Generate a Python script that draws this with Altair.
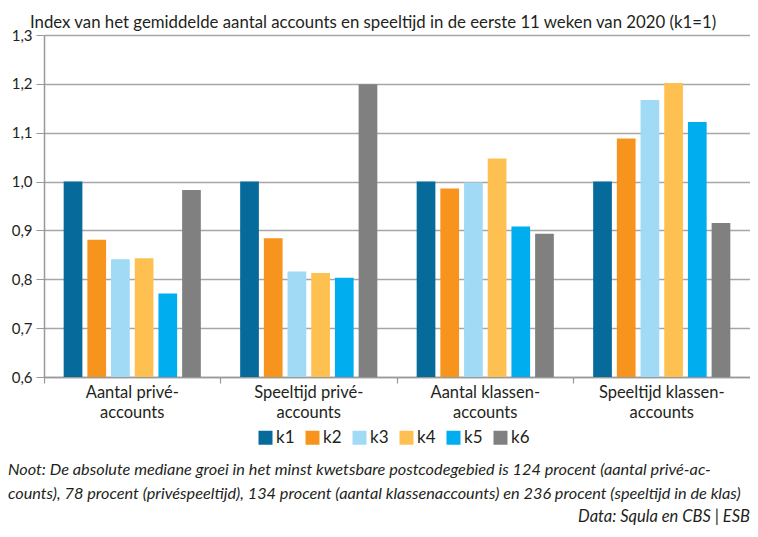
import altair as alt
import pandas as pd

groups = ["Aantal privé-accounts", "Speeltijd privé-accounts",
          "Aantal klassen-accounts", "Speeltijd klassen-accounts"]
series = ["k1", "k2", "k3", "k4", "k5", "k6"]
colors = ["#066a9a", "#f7941d", "#a0daf5", "#ffc052", "#00aeef", "#808080"]

vals_aantal_prive = [1.0, 0.881, 0.841, 0.843, 0.771, 0.983]
vals_speeltijd_prive = [1.0, 0.884, 0.816, 0.813, 0.803, 1.199]
vals_aantal_klassen = [1.0, 0.986, 0.998, 1.047, 0.908, 0.893]
vals_speeltijd_klassen = [1.0, 1.088, 1.167, 1.202, 1.122, 0.915]

title_text = "Index van het gemiddelde aantal accounts en speeltijd in de eerste 11 weken van 2020 (k1=1)"
note1 = "Noot: De absolute mediane groei in het minst kwetsbare postcodegebied is 124 procent (aantal privé-ac-"
note2 = "counts), 78 procent (privéspeeltijd), 134 procent (aantal klassenaccounts) en 236 procent (speeltijd in de klas)"
source = "Data: Squla en CBS | ESB"

rows = []
for g, vals in zip(groups, [vals_aantal_prive, vals_speeltijd_prive,
                            vals_aantal_klassen, vals_speeltijd_klassen]):
    for s, v in zip(series, vals):
        rows.append({"group": g, "series": s, "value": v})
df = pd.DataFrame(rows)

W, H = 706, 342
FONT = "Lato"
TXT = "#231f20"

bars = alt.Chart(df).mark_bar().encode(
    x=alt.X("group:N", sort=groups,
            scale=alt.Scale(paddingInner=0, paddingOuter=0),
            axis=alt.Axis(title=None, bandPosition=0,
                          labelExpr="[slice(datum.label,0,indexof(datum.label,'-')+1), slice(datum.label,indexof(datum.label,'-')+1)]",
                          labelFont=FONT, labelFontSize=16.5, labelColor=TXT,
                          labelLineHeight=20, labelPadding=1, labelAngle=0,
                          labelAlign="center", labelBaseline="top",
                          tickSize=6, tickColor="#999999", domainColor="#999999",
                          domainWidth=1.5, tickWidth=1.2)),
    xOffset=alt.XOffset("series:N", sort=series,
                        scale=alt.Scale(paddingInner=0.21, paddingOuter=0.83)),
    y=alt.Y("value:Q",
            scale=alt.Scale(domain=[0.6, 1.3], zero=False, nice=False),
            axis=alt.Axis(title=None, values=[0.6, 0.7, 0.8, 0.9, 1.0, 1.1, 1.2, 1.3],
                          labelExpr="replace(format(datum.value, '.1f'), '.', ',')",
                          labelFont=FONT, labelFontSize=15, labelColor=TXT,
                          labelPadding=4, tickSize=8, tickColor="#999999",
                          domainColor="#999999", domainWidth=1.5,
                          gridColor="#a6a6a6", gridWidth=1.5)),
    y2=alt.datum(0.6),
    color=alt.Color("series:N", sort=series,
                    scale=alt.Scale(domain=series, range=colors),
                    legend=alt.Legend(title=None, orient="none", legendX=213, legendY=394,
                                      direction="horizontal", symbolType="square",
                                      symbolSize=196, symbolStrokeWidth=0,
                                      labelFont=FONT, labelFontSize=17, labelColor=TXT,
                                      labelOffset=2, columnPadding=9)),
)

def txt(text, x, y, align="left", italic=False, size=15):
    return alt.Chart(pd.DataFrame({"t": [text]})).mark_text(
        align=align, baseline="middle", font=FONT, fontSize=size, color=TXT,
        fontStyle="italic" if italic else "normal",
    ).encode(text="t:N", x=alt.value(x), y=alt.value(y))

chart = alt.layer(
    bars,
    txt(title_text, -14, -12, size=16.8),
    txt(note1, -36, 435, italic=True, size=16.3),
    txt(note2, -36, 459, italic=True, size=16.3),
    txt(source, 706, 482, align="right", italic=True, size=16.5),
).properties(
    width=W, height=H,
    padding={"left": 0, "top": 7, "right": 0, "bottom": 0},
).configure_view(stroke=None).configure(background="white")

chart.save("out.html", embed_options={"renderer": "svg", "actions": False})
